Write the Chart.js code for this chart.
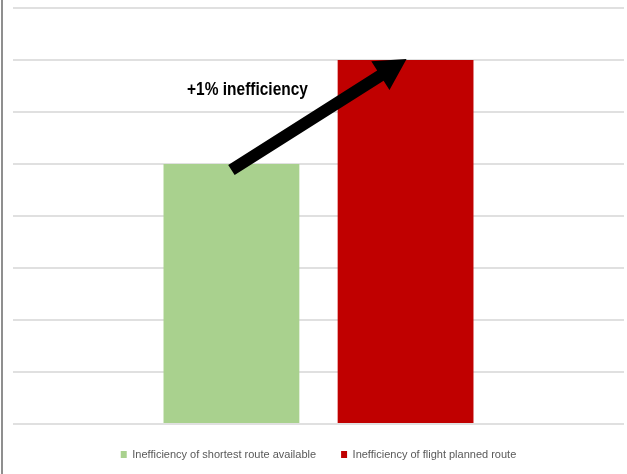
<!DOCTYPE html>
<html>
<head>
<meta charset="utf-8">
<script src="https://cdn.jsdelivr.net/npm/chart.js@4"></script>
<style>
  html, body { margin: 0; padding: 0; background: #fff; }
  #wrap { position: relative; width: 624px; height: 474px; margin-left: 1px; border-left: 2px solid #8f8f8f; }
</style>
</head>
<body>
<div id="wrap"><canvas id="chart_1"></canvas></div>
<script>
// data
const categories = [''];
const seriesLabels = ['Inefficiency of shortest route available', 'Inefficiency of flight planned route'];
const seriesValues = [5, 7];
const seriesColors = ['#a9d18e', '#c00000'];
const yTicks = [0, 8, 1]; // min, max, step
const annotationText = '+1% inefficiency';

const narrow = "'Liberation Sans Narrow', 'Liberation Sans', sans-serif";

// arrow from the top of the first bar to the top of the second
const arrowPlugin = {
    id: 'arrow',
    afterDatasetsDraw(chart){
        const ctx = chart.ctx;
        const a = chart.getDatasetMeta(0).data[0];
        const b = chart.getDatasetMeta(1).data[0];
        const y = chart.scales.y;

        const x0 = a.x, y0 = a.y + 6;
        const x1 = b.x + 1, y1 = b.y - 1;
        const ang = Math.atan2(y1 - y0, x1 - x0);
        const headLen = 31, headW = 17, shaftW = 6;
        const ux = Math.cos(ang), uy = Math.sin(ang);
        const nx = -uy, ny = ux;
        const bx = x1 - ux * headLen, by = y1 - uy * headLen;

        ctx.save();
        ctx.fillStyle = '#000';
        ctx.beginPath();
        ctx.moveTo(x0 + nx * shaftW, y0 + ny * shaftW);
        ctx.lineTo(bx + nx * shaftW, by + ny * shaftW);
        ctx.lineTo(bx + nx * headW, by + ny * headW);
        ctx.lineTo(x1, y1);
        ctx.lineTo(bx - nx * headW, by - ny * headW);
        ctx.lineTo(bx - nx * shaftW, by - ny * shaftW);
        ctx.lineTo(x0 - nx * shaftW, y0 - ny * shaftW);
        ctx.closePath();
        ctx.fill();

        // label, squeezed to look like the narrow office font
        ctx.translate((a.x + b.x) / 2 - 71, y.getPixelForValue(6.42));
        ctx.scale(0.86, 1);
        ctx.font = "bold 18px " + narrow;
        ctx.textAlign = 'center';
        ctx.textBaseline = 'middle';
        ctx.fillText(annotationText, 0, 0);
        ctx.restore();
    }
};

const datasets = seriesLabels.map((lbl, i) => ({
    label: lbl,
    data: [seriesValues[i]],
    backgroundColor: seriesColors[i],
    borderWidth: 0,
    barPercentage: 0.78,
    categoryPercentage: 0.57
}));

let chart = new Chart('chart_1', {
    type: 'bar',
    data: { labels: categories, datasets: datasets },
    options: {
        responsive: true,
        maintainAspectRatio: false,
        animation: false,
        layout: { padding: { left: 10, right: 3, top: 8, bottom: 4 } },
        scales: {
            x: { display: false },
            y: {
                min: yTicks[0], max: yTicks[1],
                ticks: { display: false, stepSize: yTicks[2] },
                grid: { color: '#e0e0e0', lineWidth: 2, drawTicks: false },
                border: { display: false }
            }
        },
        plugins: {
            legend: {
                position: 'bottom',
                labels: {
                    boxWidth: 6, boxHeight: 7, padding: 25,
                    color: '#595959',
                    font: { size: 11, family: narrow }
                }
            },
            tooltip: { enabled: false }
        }
    },
    plugins: [arrowPlugin]
});
</script>
</body>
</html>
